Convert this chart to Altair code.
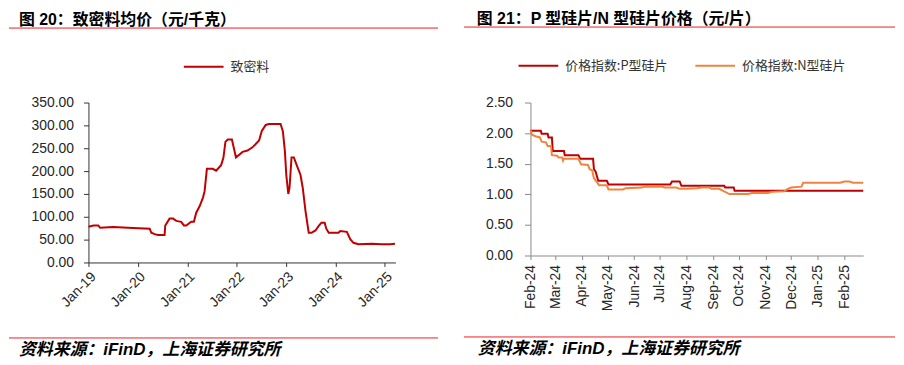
import altair as alt
import pandas as pd

left_title = "图 20：致密料均价（元/千克）"
right_title = "图 21：P 型硅片/N 型硅片价格（元/片）"
source_text = "资料来源：iFinD，上海证券研究所"
poly_name = "致密料"
p_name = "价格指数:P型硅片"
n_name = "价格指数:N型硅片"

poly_dates = [
    "2019-01-01", "2019-02-07", "2019-03-15", "2019-03-28", "2019-07-03", "2019-11-27",
    "2020-03-29", "2020-04-10", "2020-05-05", "2020-05-29", "2020-07-17", "2020-07-22",
    "2020-08-23", "2020-09-17", "2020-10-12", "2020-11-17", "2020-12-07", "2020-12-24",
    "2021-01-30", "2021-02-19", "2021-03-08", "2021-04-02", "2021-04-27", "2021-05-09",
    "2021-05-26", "2021-07-09", "2021-08-02", "2021-09-08", "2021-09-25", "2021-10-10",
    "2021-10-27", "2021-11-27", "2021-12-27", "2022-01-20", "2022-02-14", "2022-03-22",
    "2022-04-28", "2022-06-16", "2022-07-06", "2022-08-04", "2022-08-28", "2022-11-22",
    "2022-12-09", "2022-12-24", "2023-01-03", "2023-01-18", "2023-01-27", "2023-02-11",
    "2023-02-28", "2023-03-24", "2023-04-18", "2023-05-05", "2023-05-25", "2023-06-18",
    "2023-07-08", "2023-08-07", "2023-08-31", "2023-09-20", "2023-10-14", "2023-10-26",
    "2023-11-13", "2024-01-25", "2024-02-06", "2024-03-26", "2024-04-20", "2024-05-14",
    "2024-06-20", "2024-09-26", "2024-12-09", "2025-02-09", "2025-03-17",
]
poly_values = [
    78, 81, 81, 76, 77.5, 75.5,
    74, 65, 62, 60, 60, 81,
    96, 96, 91, 89, 81, 81,
    89, 89, 109, 123, 142, 156,
    205, 205, 201, 213, 229, 264,
    269, 269, 230, 236, 242, 245,
    252, 267, 288, 301, 303, 303,
    287, 243, 192, 150, 163, 230,
    230, 211, 192, 163, 113, 65,
    65, 70, 80, 87, 87, 74,
    65, 65, 69, 67, 51, 43,
    40, 41, 40, 40, 41,
]

p_dates = [
    "2024-02-01", "2024-02-13", "2024-02-14", "2024-02-21", "2024-02-22", "2024-02-26",
    "2024-02-27", "2024-03-11", "2024-03-12", "2024-03-28", "2024-03-30", "2024-04-14",
    "2024-04-15", "2024-04-17", "2024-04-20", "2024-04-30", "2024-05-02", "2024-07-13",
    "2024-07-15", "2024-07-24", "2024-07-26", "2024-09-14", "2024-09-15", "2024-09-25",
    "2024-09-26", "2025-02-23",
]
p_values = [
    2.04, 2.04, 1.99, 1.99, 1.93, 1.93,
    1.71, 1.71, 1.64, 1.64, 1.58, 1.58,
    1.41, 1.37, 1.22, 1.22, 1.16, 1.16,
    1.21, 1.21, 1.14, 1.14, 1.11, 1.11,
    1.06, 1.06,
]

n_dates = [
    "2024-02-01", "2024-02-03", "2024-02-07", "2024-02-12", "2024-02-14", "2024-02-19",
    "2024-02-21", "2024-02-25", "2024-02-26", "2024-03-03", "2024-03-05", "2024-03-09",
    "2024-03-10", "2024-03-11", "2024-03-28", "2024-03-31", "2024-04-08", "2024-04-10",
    "2024-04-13", "2024-04-15", "2024-04-19", "2024-04-21", "2024-04-30", "2024-05-02",
    "2024-05-19", "2024-05-22", "2024-06-10", "2024-06-12", "2024-07-04", "2024-07-06",
    "2024-07-20", "2024-07-24", "2024-08-01", "2024-08-13", "2024-08-19", "2024-08-28",
    "2024-08-30", "2024-09-08", "2024-09-12", "2024-09-20", "2024-10-12", "2024-10-16",
    "2024-11-04", "2024-11-08", "2024-11-23", "2024-11-27", "2024-12-01", "2024-12-13",
    "2024-12-15", "2025-01-27", "2025-02-01", "2025-02-07", "2025-02-11", "2025-02-23",
]
n_values = [
    2.05, 1.97, 1.95, 1.93, 1.86, 1.85,
    1.79, 1.79, 1.64, 1.63, 1.60, 1.60,
    1.55, 1.58, 1.58, 1.49, 1.48, 1.41,
    1.39, 1.26, 1.19, 1.15, 1.15, 1.08,
    1.08, 1.10, 1.11, 1.125, 1.125, 1.11,
    1.11, 1.09, 1.09, 1.10, 1.11, 1.11,
    1.09, 1.09, 1.06, 1.005, 1.005, 1.02,
    1.02, 1.04, 1.05, 1.09, 1.11, 1.125,
    1.19, 1.19, 1.21, 1.21, 1.19, 1.19,
]

left_y_ticks = [0, 50, 100, 150, 200, 250, 300, 350]
right_y_ticks = [0, 0.5, 1.0, 1.5, 2.0, 2.5]
left_x_years = [2019, 2020, 2021, 2022, 2023, 2024, 2025]
right_x_months = [(2024, m) for m in range(2, 13)] + [(2025, 1), (2025, 2)]

CJK = "Noto Sans CJK SC"
MIXED = "Liberation Sans, Noto Sans CJK SC"
LAT = "Liberation Sans"
RULE_RED = "#ee1c25"
DARK_RED = "#c00000"
ORANGE = "#f0843c"
LABEL = "#262626"


def dt(y, m, d):
    return alt.DateTime(year=y, month=m, date=d, utc=True)


def deco_text(text, x, y, size, weight="normal", style="normal"):
    return alt.Chart(pd.DataFrame({"t": [text]})).mark_text(
        align="left", baseline="middle", font=MIXED, fontSize=size,
        fontWeight=weight, fontStyle=style, color="#000000"
    ).encode(x=alt.value(x), y=alt.value(y), text="t:N")


def deco_rule(x1, x2, y, opacity=1):
    return alt.Chart(pd.DataFrame({"a": [0]})).mark_rule(
        color=RULE_RED, strokeWidth=1, strokeOpacity=opacity
    ).encode(x=alt.value(x1), x2=alt.value(x2), y=alt.value(y))


# ---------------- left panel ----------------
left_df = pd.DataFrame({"date": poly_dates, "value": poly_values, "series": poly_name})

left_line = alt.Chart(left_df).mark_line(strokeWidth=2).encode(
    x=alt.X("date:T",
            scale=alt.Scale(type="utc", domain=[dt(2019, 1, 1), dt(2025, 3, 20)]),
            axis=alt.Axis(values=[dt(y, 1, 1) for y in left_x_years], format="%b-%y",
                          labelAngle=-45, grid=False, title=None, tickSize=4,
                          labelPadding=3, labelFont=LAT, labelFontSize=14,
                          labelColor=LABEL, domainColor="#333333", tickColor="#333333")),
    y=alt.Y("value:Q",
            scale=alt.Scale(domain=[0, 350]),
            axis=alt.Axis(values=left_y_ticks, format=".2f", grid=False, title=None,
                          tickSize=5, labelPadding=10, labelFont=LAT, labelFontSize=14,
                          labelColor=LABEL, domainColor="#333333", tickColor="#333333")),
    color=alt.Color("series:N",
                    scale=alt.Scale(domain=[poly_name], range=[DARK_RED]),
                    legend=alt.Legend(orient="none", legendX=95, legendY=-57,
                                      direction="horizontal", title=None,
                                      symbolType="stroke", symbolSize=1600,
                                      symbolStrokeWidth=2, labelFont=CJK,
                                      labelFontSize=13, labelColor="#333333",
                                      labelOffset=6)),
)

left = alt.layer(
    left_line,
    deco_rule(-80, -79, -93, opacity=0),
    deco_text(left_title, -70, -83, 16, weight="bold"),
    deco_rule(-80, 352, -75),
    deco_rule(-80, 352, 237),
    deco_text(source_text, -70, 249, 17, weight="bold", style="italic"),
).properties(width=309, height=161)

# ---------------- right panel ----------------
right_df = pd.concat([
    pd.DataFrame({"date": p_dates, "value": p_values, "series": p_name}),
    pd.DataFrame({"date": n_dates, "value": n_values, "series": n_name}),
], ignore_index=True)

right_line = alt.Chart(right_df).mark_line(strokeWidth=2).encode(
    x=alt.X("date:T",
            scale=alt.Scale(type="utc", domain=[dt(2024, 2, 1), dt(2025, 2, 23)]),
            axis=alt.Axis(values=[dt(y, m, 1) for y, m in right_x_months], format="%b-%y",
                          labelAngle=-90, grid=False, title=None, tickSize=4,
                          labelPadding=5, labelFont=LAT, labelFontSize=14,
                          labelColor=LABEL, domainColor="#888888", tickColor="#888888")),
    y=alt.Y("value:Q",
            scale=alt.Scale(domain=[0, 2.5]),
            axis=alt.Axis(values=right_y_ticks, format=".2f", grid=False, title=None,
                          tickSize=6, labelPadding=12, labelFont=LAT, labelFontSize=14,
                          labelColor=LABEL, domainColor="#888888", tickColor="#888888")),
    color=alt.Color("series:N",
                    scale=alt.Scale(domain=[p_name, n_name], range=[DARK_RED, ORANGE]),
                    legend=alt.Legend(orient="none", legendX=-13, legendY=-58,
                                      direction="horizontal", title=None,
                                      symbolType="stroke", symbolSize=1600,
                                      symbolStrokeWidth=2, labelFont=CJK,
                                      labelFontSize=13, labelColor="#333333",
                                      labelOffset=6, columnPadding=24)),
)

right = alt.layer(
    right_line,
    deco_rule(-67, -66, -94, opacity=0),
    deco_text(right_title, -54, -84, 16, weight="bold"),
    deco_rule(-67, 367, -76),
    deco_rule(-67, 367, 236),
    deco_text(source_text, -53, 248, 17, weight="bold", style="italic"),
).properties(width=335, height=154)

chart = alt.hconcat(left, right, spacing=24).resolve_scale(
    color="independent", x="independent", y="independent"
).resolve_legend(color="independent").properties(
    padding=0, background="white"
).configure_view(stroke=None)

chart.save("out.html", embed_options={"renderer": "svg", "actions": False})
